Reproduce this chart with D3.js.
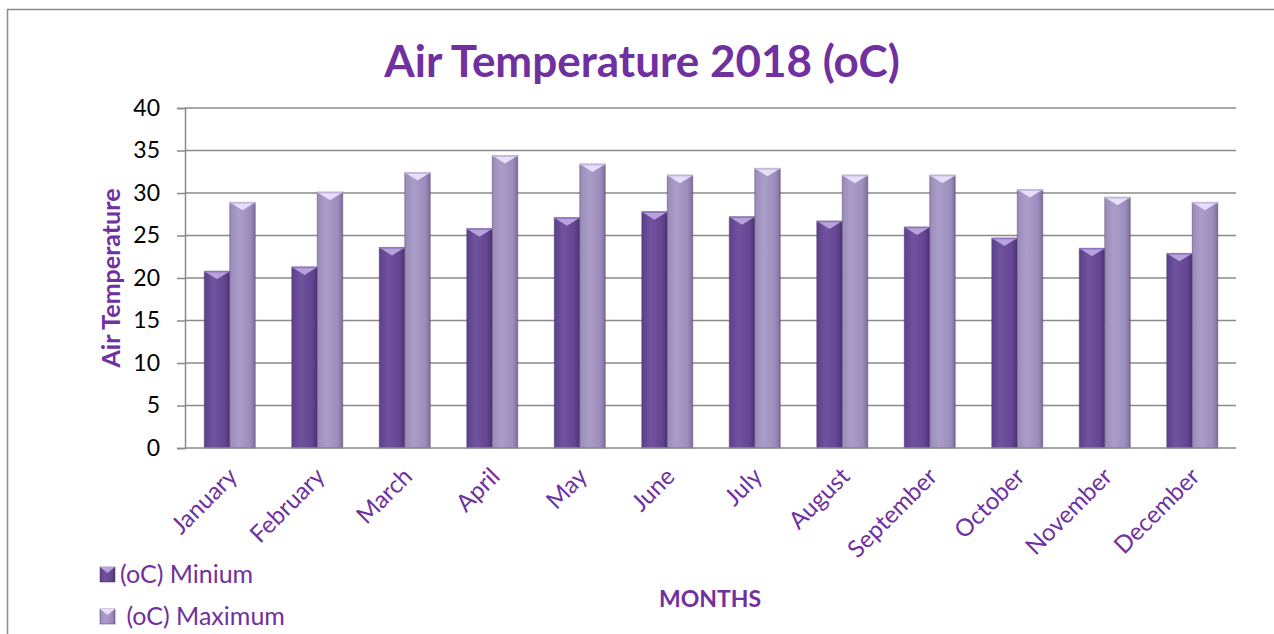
<!DOCTYPE html>
<html>
<head>
<meta charset="utf-8">
<script src="https://cdn.jsdelivr.net/npm/d3@7"></script>
<style>
  body { margin: 0; background: #fff; }
  svg { display: block; font-family: Lato, "Open Sans", sans-serif; }
</style>
</head>
<body>
<div class="board"></div>
<script>
// chart data
var months = ['January', 'February', 'March', 'April', 'May', 'June',
  'July', 'August', 'September', 'October', 'November', 'December'];
var minTemp = [20.8, 21.3, 23.6, 25.8, 27.1, 27.8, 27.2, 26.7, 26.0, 24.7, 23.5, 22.9];
var maxTemp = [28.9, 30.1, 32.4, 34.4, 33.4, 32.1, 32.9, 32.1, 32.1, 30.4, 29.5, 28.9];
var yTicks = [0, 5, 10, 15, 20, 25, 30, 35, 40];
var seriesNames = ['(oC) Minium', ' (oC) Maximum'];

var width = 1274, height = 634;
var purple = '#7030a0';

var svg = d3.select('.board').append('svg')
  .attr('width', width)
  .attr('height', height);

var defs = svg.append('defs');
var makeGrad = function (id, stops) {
  var g = defs.append('linearGradient').attr('id', id)
    .attr('x1', '0').attr('x2', '1').attr('y1', '0').attr('y2', '0');
  stops.forEach(function (s) {
    g.append('stop').attr('offset', s[0]).attr('stop-color', s[1]);
  });
};
makeGrad('gMin', [[0, '#5d3f8d'], [0.35, '#71529f'], [0.8, '#634592'], [1, '#4b3176']]);
makeGrad('gMax', [[0, '#9a8ab8'], [0.35, '#ab9dc9'], [0.8, '#9d8dbd'], [1, '#7d6e9a']]);

// chart frame
svg.append('rect')
  .attr('x', 7.5).attr('y', 9.5)
  .attr('width', 1300).attr('height', 700)
  .attr('fill', 'none').attr('stroke', '#8c8c8c').attr('stroke-width', 1.5);

var x0 = 185, x1 = 1236;
var y = d3.scaleLinear().domain([0, 40]).range([448, 108]);
var x = d3.scaleBand().domain(months).range([186, 1236]);
var groupW = 51;
var inner = d3.scaleBand().domain([0, 1]).range([0, groupW]);

// gridlines
svg.append('g').selectAll('line')
  .data(yTicks.slice(1))
  .enter().append('line')
  .attr('x1', x0).attr('x2', x1)
  .attr('y1', function (d) { return y(d); })
  .attr('y2', function (d) { return y(d); })
  .attr('stroke', '#8a8a8a').attr('stroke-width', 1.5);

// y axis
var yAxis = svg.append('g')
  .attr('transform', 'translate(' + x0 + ',0)')
  .call(d3.axisLeft(y).tickValues(yTicks).tickSize(8).tickPadding(17));
yAxis.select('.domain').attr('stroke', '#8a8a8a').attr('stroke-width', 1.5);
yAxis.selectAll('.tick line').attr('stroke', '#8a8a8a').attr('stroke-width', 1.5);
yAxis.selectAll('text')
  .style('font-size', '23px')
  .style('font-family', 'Lato, sans-serif')
  .attr('fill', '#000');

// bars
var series = [
  { name: seriesNames[0], values: minTemp, fill: 'url(#gMin)', top: '#8f74bd', topHi: '#b6a3dc' },
  { name: seriesNames[1], values: maxTemp, fill: 'url(#gMax)', top: '#c3b6de', topHi: '#e6defa' }
];

series.forEach(function (s, si) {
  var g = svg.append('g');
  var bx = function (d, i) { return x(months[i]) + (x.bandwidth() - groupW) / 2 + inner(si); };
  var bw = inner.bandwidth();
  g.selectAll('rect')
    .data(s.values)
    .enter().append('rect')
    .attr('x', bx)
    .attr('y', function (d) { return y(d); })
    .attr('width', bw)
    .attr('height', function (d) { return y(0) - y(d); })
    .attr('fill', s.fill)
    .attr('stroke', '#4a3a63').attr('stroke-opacity', 0.45).attr('stroke-width', 1);
  // bevelled top
  g.selectAll('path')
    .data(s.values)
    .enter().append('path')
    .attr('d', function (d, i) {
      var l = bx(d, i), t = y(d);
      return 'M' + l + ',' + t + 'L' + (l + bw) + ',' + t + 'L' + (l + bw / 2) + ',' + (t + 8) + 'Z';
    })
    .attr('fill', s.topHi);
  g.selectAll('line.edge')
    .data(s.values)
    .enter().append('line')
    .attr('class', 'edge')
    .attr('x1', function (d, i) { return bx(d, i); })
    .attr('x2', function (d, i) { return bx(d, i) + bw; })
    .attr('y1', function (d) { return y(d) + 0.5; })
    .attr('y2', function (d) { return y(d) + 0.5; })
    .attr('stroke', s.top).attr('stroke-width', 1.5);
});

// x axis line
svg.append('line')
  .attr('x1', x0).attr('x2', x1)
  .attr('y1', y(0)).attr('y2', y(0))
  .attr('stroke', '#8a8a8a').attr('stroke-width', 1.5);

// month labels
svg.append('g').selectAll('text')
  .data(months)
  .enter().append('text')
  .attr('transform', function (d) {
    return 'translate(' + (x(d) + x.bandwidth() / 2 + 9) + ',478) rotate(-45)';
  })
  .attr('text-anchor', 'end')
  .attr('fill', purple)
  .style('font-size', '24px')
  .text(function (d) { return d; });

// title
svg.append('text')
  .attr('x', 642).attr('y', 77)
  .attr('text-anchor', 'middle')
  .attr('fill', purple)
  .style('font-size', '44px').style('font-weight', 'bold')
  .text('Air Temperature 2018 (oC)');

// axis titles
svg.append('text')
  .attr('transform', 'translate(120,278) rotate(-90)')
  .attr('text-anchor', 'middle')
  .attr('fill', purple)
  .style('font-size', '25px').style('font-weight', 'bold')
  .text('Air Temperature');

svg.append('text')
  .attr('x', 710).attr('y', 607)
  .attr('text-anchor', 'middle')
  .attr('fill', purple)
  .style('font-size', '23px').style('font-weight', 'bold')
  .text('MONTHS');

// legend
var legend = svg.append('g').selectAll('g')
  .data(series)
  .enter().append('g')
  .attr('transform', function (d, i) { return 'translate(100,' + (567 + i * 42) + ')'; });
legend.append('rect')
  .attr('width', 15).attr('height', 15)
  .attr('fill', function (d) { return d.fill; })
  .attr('stroke', '#4a3a63').attr('stroke-opacity', 0.5);
legend.append('path')
  .attr('d', 'M0,0L15,0L7.5,6Z')
  .attr('fill', function (d) { return d.topHi; });
legend.append('text')
  .attr('x', 20).attr('y', 16)
  .attr('fill', purple)
  .style('font-size', '25px')
  .style('white-space', 'pre')
  .text(function (d) { return d.name; });
</script>
</body>
</html>
